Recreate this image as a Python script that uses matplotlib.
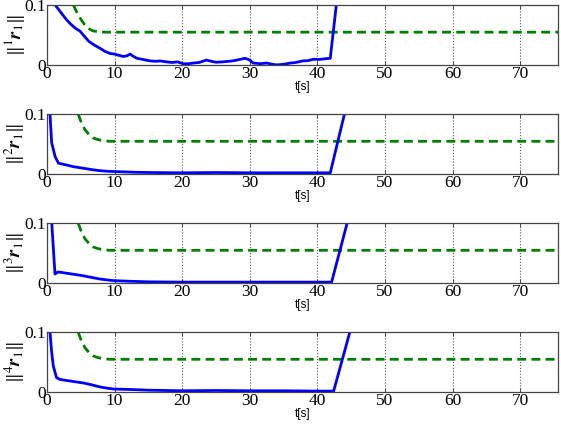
import matplotlib
matplotlib.use("Agg")
import matplotlib.pyplot as plt

# bound (green dashed), same shape in all panels, shifted a bit in panel 1
bound1_t = [3.9, 4.3, 4.9, 5.5, 6.1, 6.7, 7.35, 8.0, 8.8, 76]
bound1_v = [0.1, 0.090, 0.078, 0.068, 0.061, 0.057, 0.0556, 0.0548, 0.0545, 0.0545]
bound_t = [4.6, 5.0, 5.6, 6.2, 6.85, 7.5, 8.0, 8.6, 9.3, 76]
bound_v = [0.1, 0.088, 0.074, 0.066, 0.060, 0.0575, 0.0562, 0.0552, 0.0545, 0.0545]

# error norms (blue)
err1_t = [1.2, 2.0, 2.9, 3.5, 4.2, 4.9, 5.5, 6.2, 7.0, 7.8, 8.5, 9.3, 10.0, 10.6, 11.3, 11.8,
          12.3, 12.8, 13.3, 14.2, 15.2, 16.0, 16.8, 17.7, 18.5, 19.3, 20.2, 21.0, 21.6, 22.5,
          23.6, 24.3, 25.0, 26.0, 27.5, 28.5, 29.3, 30.0, 30.5, 31.5, 32.5, 33.3, 34.0, 35.0,
          36.0, 36.8, 37.9, 38.6, 39.4, 40.2, 41.0, 41.9, 42.8]
err1_v = [0.1, 0.088, 0.075, 0.068, 0.061, 0.056, 0.048, 0.039, 0.033, 0.028, 0.023, 0.019,
          0.018, 0.016, 0.014, 0.015, 0.018, 0.014, 0.011, 0.009, 0.0067, 0.006, 0.0065, 0.005,
          0.004, 0.005, 0.0017, 0.002, 0.003, 0.004, 0.008, 0.006, 0.0044, 0.005, 0.0067,
          0.009, 0.011, 0.008, 0.003, 0.002, 0.003, 0.001, 0.0, 0.001, 0.003, 0.004, 0.0067,
          0.007, 0.0094, 0.009, 0.010, 0.011, 0.1]
err2_t = [0.44, 0.69, 1.2, 1.7, 2.9, 4.0, 5.4, 6.5, 7.8, 9.0, 10.3, 12.8, 15.0, 20.0, 25.0,
          30.0, 35.0, 40.0, 41.9, 44.0]
err2_v = [0.1, 0.052, 0.029, 0.018, 0.015, 0.012, 0.0096, 0.0075, 0.0056, 0.0045, 0.004,
          0.003, 0.0025, 0.002, 0.0025, 0.002, 0.002, 0.002, 0.002, 0.1]
err3_t = [0.7, 1.18, 1.45, 1.67, 2.5, 4.0, 5.4, 6.5, 7.8, 9.0, 9.8, 12.0, 15.0, 20.0, 25.0,
          30.0, 35.0, 40.0, 42.1, 44.4]
err3_v = [0.1, 0.015, 0.017, 0.0185, 0.017, 0.0145, 0.012, 0.0095, 0.0067, 0.005, 0.004,
          0.003, 0.002, 0.0015, 0.0015, 0.0015, 0.0015, 0.0015, 0.0015, 0.1]
err4_t = [0.44, 0.7, 0.93, 1.4, 1.9, 3.0, 4.2, 5.4, 6.6, 7.8, 8.8, 9.8, 12.8, 15.0, 20.0,
          25.0, 30.0, 35.0, 40.0, 42.4, 44.8]
err4_v = [0.1, 0.065, 0.0435, 0.024, 0.021, 0.019, 0.017, 0.015, 0.012, 0.0085, 0.0065,
          0.005, 0.004, 0.003, 0.002, 0.0025, 0.002, 0.002, 0.0015, 0.0015, 0.1]

errors = [(err1_t, err1_v), (err2_t, err2_v), (err3_t, err3_v), (err4_t, err4_v)]
bounds = [(bound1_t, bound1_v), (bound_t, bound_v), (bound_t, bound_v), (bound_t, bound_v)]
ylabels = [r"$\|{}^{%d}\mathbfit{r}_1\|$" % k for k in range(1, 5)]
xticks = [0, 10, 20, 30, 40, 50, 60, 70]

plt.rcParams["mathtext.fontset"] = "stix"

fig = plt.figure(figsize=(5.61, 4.24), dpi=100)
left, width, height = 0.0838, 0.911, 0.1415
bottoms = [0.847, 0.5896, 0.3325, 0.0755]

for i in range(4):
    ax = fig.add_axes([left, bottoms[i], width, height])
    bt, bv = bounds[i]
    et, ev = errors[i]
    ax.plot(bt, bv, "--", color="#008000", lw=2.0, dashes=(3.2, 1.9))
    ax.plot(et, ev, "-", color="#0000ff", lw=2.0)
    ax.set_xlim(0, 75.6)
    ax.set_ylim(0, 0.1)
    ax.set_xticks(xticks)
    ax.set_yticks([0, 0.1])
    ax.set_yticklabels(["0", "0.1"])
    ax.xaxis.grid(True, linestyle=":", color="#555555", lw=0.8)
    ax.tick_params(direction="in", length=3, width=0.6, top=True, right=True, pad=1,
                   labelsize=12.5, colors="#333333")
    for lab in ax.get_xticklabels() + ax.get_yticklabels():
        lab.set_fontfamily("Liberation Serif")
        lab.set_color("black")
    for s in ax.spines.values():
        s.set_color("#444444")
        s.set_linewidth(0.9)
    ax.set_xlabel("t[s]", fontsize=8.5, family="Liberation Sans", labelpad=-1)
    ax.set_ylabel(ylabels[i], fontsize=13.5)
    ax.yaxis.set_label_coords(-0.039, 0.5)

fig.savefig("out.png", dpi=100)
